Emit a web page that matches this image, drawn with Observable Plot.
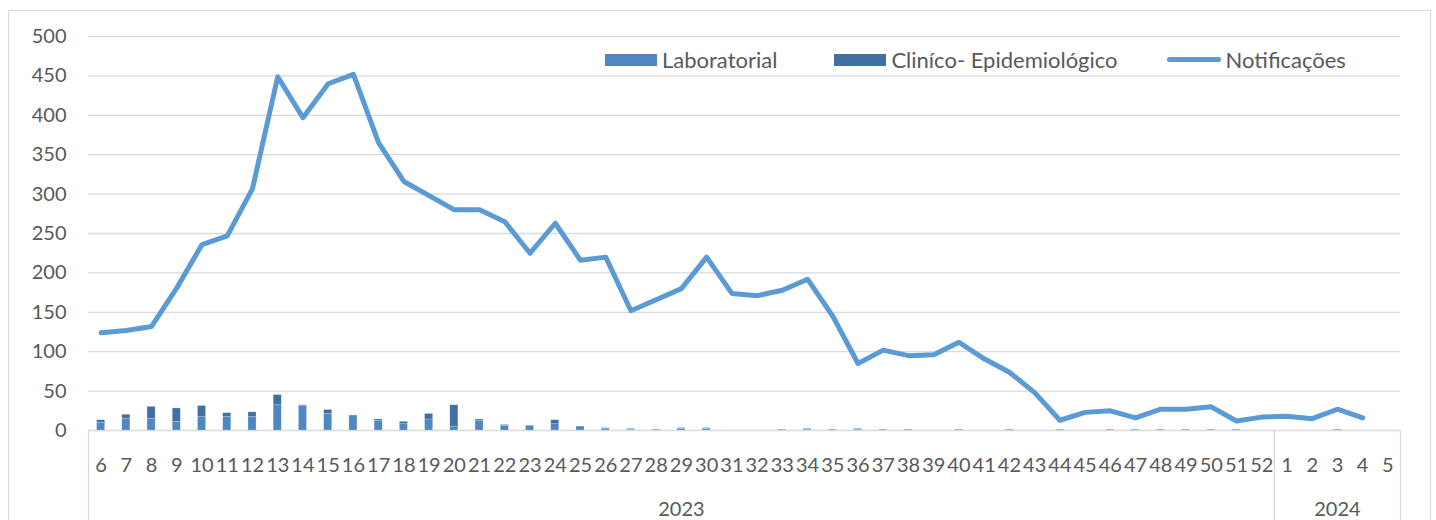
<!DOCTYPE html>
<html>
<head>
<meta charset="utf-8">
<script src="https://cdn.jsdelivr.net/npm/d3@7"></script>
<script src="https://cdn.jsdelivr.net/npm/@observablehq/plot@0.6"></script>
<style>
  html, body { margin: 0; padding: 0; background: #fff; }
  #wrap { position: relative; width: 1436px; height: 520px; overflow: hidden; font-family: Lato, "Open Sans", sans-serif; }
  #border { position: absolute; left: 8px; top: 10px; width: 1423px; height: 540px; border: 1.5px solid #d9d9d9; box-sizing: border-box; pointer-events: none; }
  #legend { position: absolute; left: 605px; top: 46px; display: flex; align-items: center; font-size: 22px; color: #595959; white-space: nowrap; }
  .item { display: flex; align-items: center; gap: 5px; }
  .sw { width: 52px; height: 12px; display: inline-block; }
  .ln { width: 54px; height: 5px; border-radius: 3px; display: inline-block; }
  #chart { position: absolute; left: 0; top: 0; }
</style>
</head>
<body>
<div id="wrap">
  <div id="border"></div>
  <div id="chart"></div>
  <div id="legend"></div>
</div>
<script>
// Categories: epidemiological weeks
const weeks2023 = [6,7,8,9,10,11,12,13,14,15,16,17,18,19,20,21,22,23,24,25,26,27,28,29,30,31,32,33,34,35,36,37,38,39,40,41,42,43,44,45,46,47,48,49,50,51,52];
const weeks2024 = [1,2,3,4,5];
const yearNames = ["2023", "2024"];

// Notificações (line)
const notificacoes = [124,127,132,181,236,247,307,449,397,440,452,365,316,298,280,280,265,225,263,216,220,152,166,180,220,174,171,178,192,145,85,102,95,96,112,91,74,48,13,23,25,16,27,27,30,12,17,
  18,15,27,16,null];

// Laboratorial (bars, bottom)
const laboratorial = [10,15,15,11,17,17,17,32,31,21,19,12,8,14,5,12,6,6,8,5,2,1,1,2,2,0,0,1,1,1,1,1,1,0,1,0,1,0,1,0,1,1,1,1,1,1,0,
  0,0,1,0,0];
// Clínico-Epidemiológico (bars, top)
const clinico = [3,5,15,17,14,5,6,13,1,5,0,2,3,7,27,2,1,0,5,0,1,1,0,1,1,0,0,0,1,0,1,0,0,0,0,0,0,0,0,0,0,0,0,0,0,0,0,
  0,0,0,0,0];

const yTicks = [0,50,100,150,200,250,300,350,400,450,500];
const seriesNames = ["Laboratorial", "Cliníco- Epidemiológico", "Notificações"];
const colors = ["#4f88c1", "#3f70a0", "#5b9bd5"];
const legendGaps = [0, 57, 49];

const cats = [
  ...weeks2023.map(w => ({key: "2023-" + w, week: w, year: "2023"})),
  ...weeks2024.map(w => ({key: "2024-" + w, week: w, year: "2024"}))
];
const keys = cats.map(c => c.key);
const labelOf = new Map(cats.map(c => [c.key, String(c.week)]));

const lineData = cats.map((c, i) => ({key: c.key, value: notificacoes[i]})).filter(d => d.value != null);
const barData = cats.flatMap((c, i) => [
  {key: c.key, series: seriesNames[0], value: laboratorial[i]},
  {key: c.key, series: seriesNames[1], value: clinico[i]}
]);

const W = 1436, H = 520, ML = 88, MR = 36, MT = 36, MB = 90;
const step = (W - ML - MR) / keys.length;

// year group labels: centred on middle week of each group
const yearLabels = [
  {key: "2023-29", label: yearNames[0]},
  {key: "2024-3", label: yearNames[1]}
];

const chart = Plot.plot({
  width: W, height: H,
  marginLeft: ML, marginRight: MR, marginTop: MT, marginBottom: MB,
  style: {fontFamily: "Lato, 'Open Sans', sans-serif", fontSize: "20px", color: "#595959", background: "transparent", overflow: "visible"},
  x: {type: "band", domain: keys, paddingInner: 0.68, paddingOuter: 0.34, round: false, label: null},
  y: {domain: [0, 500], label: null},
  color: {domain: seriesNames.slice(0, 2), range: colors.slice(0, 2)},
  marks: [
    Plot.gridY(yTicks, {stroke: "#d9d9d9", strokeOpacity: 1, strokeWidth: 1.3}),
    Plot.axisY(yTicks, {tickSize: 0, tickPadding: 22, fill: "#595959", fontSize: 20, label: null}),
    Plot.axisX({tickSize: 0, tickPadding: 27, tickFormat: k => labelOf.get(k), fill: "#595959", fontSize: 20, label: null}),
    Plot.ruleX(["2023-6", "2024-1"], {x: d => d, y1: 0, y2: -115, dx: -step / 2, stroke: "#d9d9d9", strokeWidth: 1.3}),
    Plot.ruleX(["2024-5"], {x: d => d, y1: 0, y2: -115, dx: step / 2, stroke: "#d9d9d9", strokeWidth: 1.3}),
    Plot.barY(barData, {x: "key", y: "value", fill: "series", order: seriesNames.slice(0, 2), stroke: "#ffffff", strokeOpacity: 0.35, strokeWidth: 0.6}),
    Plot.lineY(lineData, {x: "key", y: "value", stroke: colors[2], strokeWidth: 5, strokeLinejoin: "round", strokeLinecap: "round"}),
    Plot.text(yearLabels, {x: "key", text: "label", frameAnchor: "bottom", dy: 85, fill: "#595959", fontSize: 20})
  ]
});
document.getElementById("chart").appendChild(chart);

// Legend
const legend = document.getElementById("legend");
seriesNames.forEach((name, i) => {
  const item = document.createElement("div");
  item.className = "item";
  item.style.marginLeft = legendGaps[i] + "px";
  const sw = document.createElement("span");
  sw.className = i < 2 ? "sw" : "ln";
  sw.style.background = colors[i];
  const t = document.createElement("span");
  t.textContent = name;
  item.appendChild(sw);
  item.appendChild(t);
  legend.appendChild(item);
});
</script>
</body>
</html>
